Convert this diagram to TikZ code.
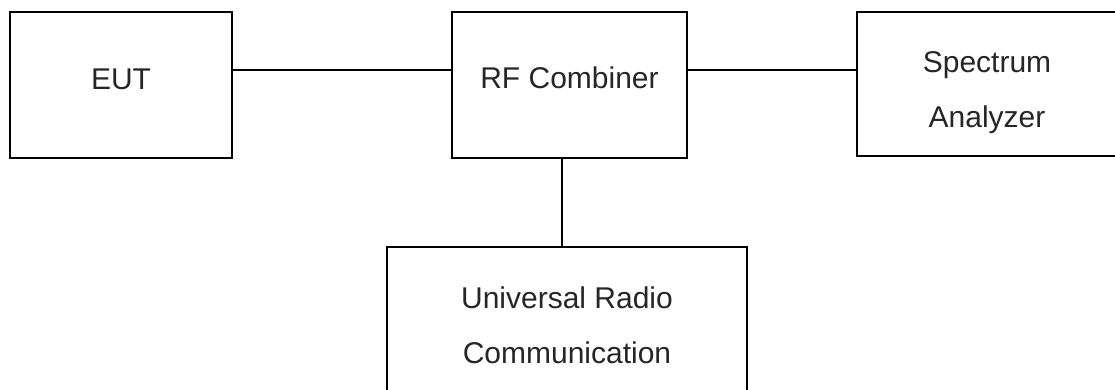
\documentclass[tikz,border=0pt]{standalone}
\usepackage{fontspec}
\setmainfont{Liberation Sans}
\begin{document}
\begin{tikzpicture}[x=1pt,y=-1pt,line width=1.6pt,
    box/.style={draw,rectangle,inner sep=0pt,text=black!85,
      font=\fontsize{30}{55}\selectfont}]
  \clip (0,0) rectangle (1115,390);
  \draw
    (121,85) node[box,minimum width=222pt,minimum height=146pt,
      text height=22pt,text depth=12pt] (eut){EUT}
    (569.5,85) node[box,minimum width=235pt,minimum height=146pt,
      text height=22pt,text depth=14pt] (rf){RF Combiner}
    (987,84) node[box,align=center,minimum width=260pt,minimum height=144pt,
      text height=94pt,text depth=6pt] (sa){Spectrum\\Analyzer}
    (567,321) node[box,align=center,minimum width=360pt,minimum height=148pt,
      text height=84pt,text depth=0pt] (urc){Universal Radio\\Communication};
  \begin{scope}[-]
    \draw ([yshift=15pt]eut.east) to ([yshift=15pt]rf.west);
    \draw ([yshift=15pt]rf.east) to ([yshift=14pt]sa.west);
    \draw ([xshift=-7.5pt]rf.south) to ([xshift=-7.5pt]rf.south |- urc.north);
  \end{scope}
\end{tikzpicture}
\end{document}
